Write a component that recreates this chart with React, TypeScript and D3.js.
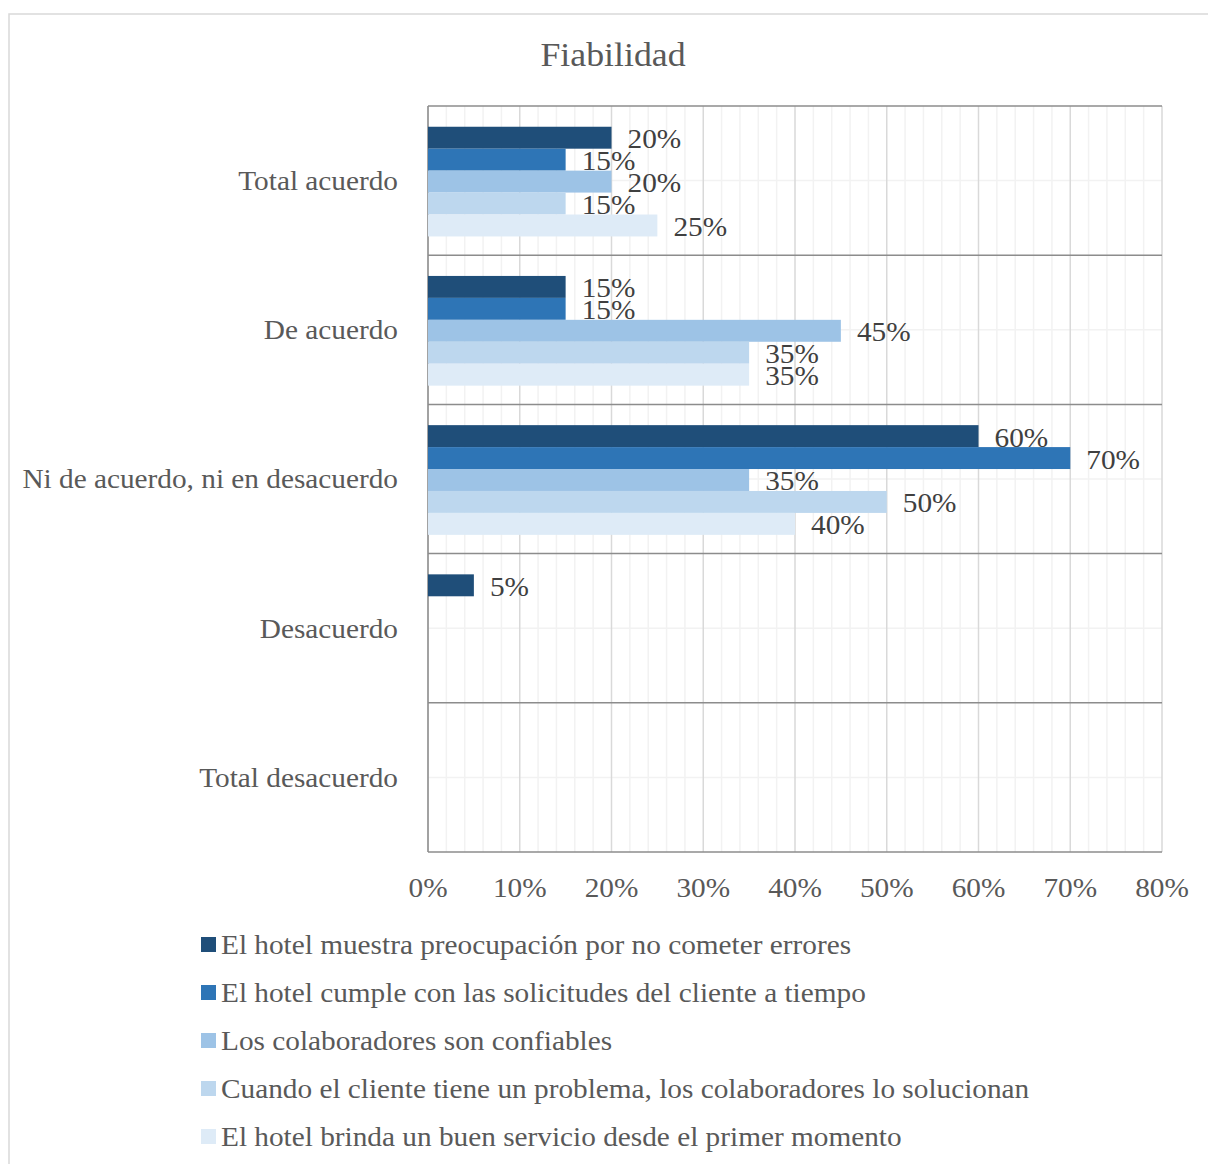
import React from "react";
import * as d3 from "d3";

const title = "Fiabilidad";
const categories = [
  "Total acuerdo",
  "De acuerdo",
  "Ni de acuerdo, ni en desacuerdo",
  "Desacuerdo",
  "Total desacuerdo",
];
const seriesNames = [
  "El hotel muestra preocupación por no cometer errores",
  "El hotel cumple con las solicitudes del cliente a tiempo",
  "Los colaboradores son confiables",
  "Cuando el cliente tiene un problema, los colaboradores lo solucionan",
  "El hotel brinda un buen servicio desde el primer momento",
];
const s1 = [20, 15, 60, 5, 0];
const s2 = [15, 15, 70, 0, 0];
const s3 = [20, 45, 35, 0, 0];
const s4 = [15, 35, 50, 0, 0];
const s5 = [25, 35, 40, 0, 0];
const seriesValues = [s1, s2, s3, s4, s5];
const colors = ["#1F4E79", "#2E75B6", "#9DC3E6", "#BDD7EE", "#DEEBF7"];
const xTicks = [0, 10, 20, 30, 40, 50, 60, 70, 80];

const W = 1208;
const H = 1164;
const left = 428;
const right = 1162;
const top = 106;
const bottom = 852;
const font = "'Liberation Serif', 'Times New Roman', serif";
const textColor = "#595959";
const SX = 1.085;
const FS = 27;

function T(props: {
  x: number;
  y: number;
  anchor?: string;
  size?: number;
  fill?: string;
  dy?: string;
  children: React.ReactNode;
}) {
  return (
    <text
      transform={`translate(${props.x},${props.y}) scale(${SX},1)`}
      textAnchor={props.anchor || "start"}
      fontSize={props.size || FS}
      fill={props.fill || textColor}
      dy={props.dy}
    >
      {props.children}
    </text>
  );
}

export default function App() {
  const x = d3.scaleLinear().domain([0, 80]).range([left, right]);
  const y = d3.scaleBand<string>().domain(categories).range([top, bottom]);
  const inner = d3
    .scaleBand<number>()
    .domain(d3.range(seriesNames.length))
    .range([0, y.bandwidth()])
    .paddingOuter(0.9)
    .paddingInner(0);
  const minor = d3.range(0, 81, 2).filter((v) => v % 10 !== 0);

  return (
    <svg
      width={W}
      height={H}
      style={{ position: "absolute", left: 0, top: 0, background: "#fff" }}
      fontFamily={font}
    >
      <rect x={9} y={14} width={W} height={H} fill="#fff" stroke="#d9d9d9" strokeWidth={1.5} />
      <T x={613} y={66} anchor="middle" size={33}>
        {title}
      </T>
      {/* minor vertical grid */}
      {minor.map((v) => (
        <line key={"mv" + v} x1={x(v)} x2={x(v)} y1={top} y2={bottom} stroke="#f2f2f2" strokeWidth={1.5} />
      ))}
      {/* minor horizontal grid at category centers */}
      {categories.map((c) => (
        <line
          key={"mh" + c}
          x1={left}
          x2={right}
          y1={(y(c) as number) + y.bandwidth() / 2}
          y2={(y(c) as number) + y.bandwidth() / 2}
          stroke="#f2f2f2"
          strokeWidth={1.5}
        />
      ))}
      {/* major vertical grid */}
      {xTicks.map((v) => (
        <line key={"Mv" + v} x1={x(v)} x2={x(v)} y1={top} y2={bottom} stroke="#d9d9d9" strokeWidth={1.5} />
      ))}
      {/* category separators */}
      {d3.range(categories.length + 1).map((i) => {
        const yy = top + i * y.step();
        return <line key={"sep" + i} x1={left} x2={right} y1={yy} y2={yy} stroke="#8c8c8c" strokeWidth={1.5} />;
      })}
      <line x1={left} x2={left} y1={top} y2={bottom} stroke="#8c8c8c" strokeWidth={1.5} />
      {/* bars */}
      {seriesValues.map((vals, si) =>
        vals.map((v, ci) => {
          if (v === 0) return null;
          const by = (y(categories[ci]) as number) + (inner(si) as number) + 1;
          return (
            <g key={`b${si}-${ci}`}>
              <rect x={x(0)} y={by} width={x(v) - x(0)} height={inner.bandwidth()} fill={colors[si]} />
              <T x={x(v) + 16} y={by + inner.bandwidth() / 2 + 1} dy="0.35em" fill="#404040">
                {v + "%"}
              </T>
            </g>
          );
        })
      )}
      {/* category labels */}
      {categories.map((c) => (
        <T key={"cl" + c} x={398} y={(y(c) as number) + y.bandwidth() / 2} dy="0.35em" anchor="end">
          {c}
        </T>
      ))}
      {/* x tick labels */}
      {xTicks.map((v) => (
        <T key={"xt" + v} x={x(v)} y={897} anchor="middle">
          {v + "%"}
        </T>
      ))}
      {/* legend */}
      {seriesNames.map((n, i) => (
        <g key={"lg" + i} transform={`translate(201, ${945 + i * 48})`}>
          <rect x={0} y={-8} width={15} height={15} fill={colors[i]} />
          <T x={20} y={0} dy="0.35em">
            {n}
          </T>
        </g>
      ))}
    </svg>
  );
}
